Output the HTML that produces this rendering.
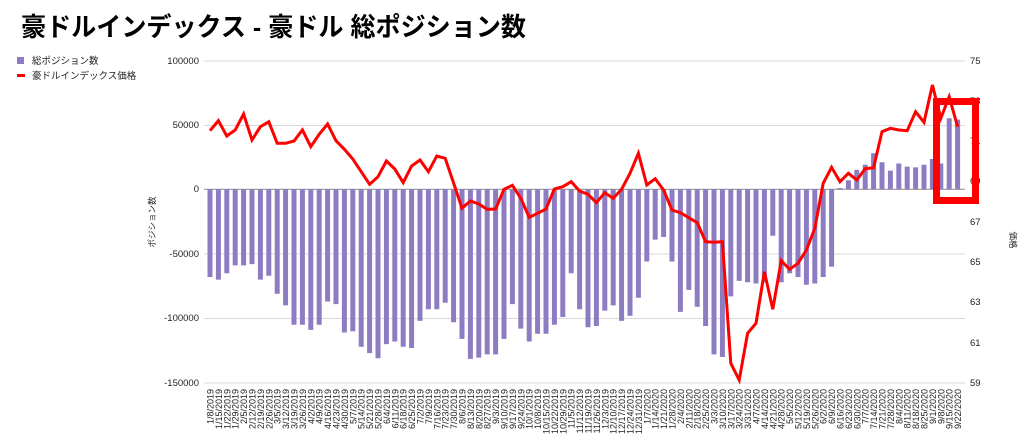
<!DOCTYPE html>
<html><head><meta charset="utf-8"><style>
html,body{margin:0;padding:0;background:#fff;width:1024px;height:447px;overflow:hidden}
svg{display:block;font-family:"Liberation Sans","Noto Sans CJK JP",sans-serif}
</style></head><body>
<svg width="1024" height="447" viewBox="0 0 1024 447" xmlns="http://www.w3.org/2000/svg">
<text x="21" y="36" font-size="26" font-weight="bold" fill="#000" textLength="505" lengthAdjust="spacingAndGlyphs">豪ドルインデックス - 豪ドル 総ポジション数</text>
<rect x="17" y="57" width="7" height="7" fill="#8e7cc3"/>
<text x="32" y="64" font-size="9.5" fill="#222">総ポジション数</text>
<rect x="17" y="74" width="8" height="3" fill="#ff0000"/>
<text x="32" y="79" font-size="9.5" fill="#222">豪ドルインデックス価格</text>
<g stroke="#d9d9d9" stroke-width="1">
<line x1="204" x2="965" y1="61" y2="61"/><line x1="204" x2="965" y1="125.5" y2="125.5"/>
<line x1="204" x2="965" y1="254" y2="254"/><line x1="204" x2="965" y1="318.5" y2="318.5"/>
<line x1="204" x2="965" y1="383" y2="383"/></g>
<line x1="204" x2="965" y1="189.3" y2="189.3" stroke="#999" stroke-width="1.2"/>
<g font-size="9.5" fill="#222" text-anchor="end">
<text x="199" y="64">100000</text><text x="199" y="128">50000</text><text x="199" y="192">0</text>
<text x="199" y="257">-50000</text><text x="199" y="321">-100000</text><text x="199" y="386">-150000</text></g>
<g font-size="9.5" fill="#222">
<text x="970" y="64">75</text><text x="970" y="104">73</text><text x="970" y="144">71</text><text x="970" y="184">69</text>
<text x="970" y="225">67</text><text x="970" y="265">65</text><text x="970" y="305">63</text><text x="970" y="346">61</text><text x="970" y="386">59</text></g>
<text transform="translate(155,222) rotate(-90)" font-size="8.5" fill="#222" text-anchor="middle">ポジション数</text>
<text transform="translate(1010,240) rotate(90)" font-size="8.5" fill="#222" text-anchor="middle">価格</text>
<path fill="#8e7cc3" d="M207.5,189.3v87.7h5v-87.7zM215.9,189.3v90.3h5v-90.3zM224.3,189.3v83.9h5v-83.9zM232.7,189.3v76.1h5v-76.1zM241.1,189.3v76.1h5v-76.1zM249.5,189.3v74.8h5v-74.8zM257.9,189.3v90.3h5v-90.3zM266.3,189.3v86.4h5v-86.4zM274.7,189.3v104.5h5v-104.5zM283.1,189.3v116.1h5v-116.1zM291.5,189.3v135.5h5v-135.5zM299.9,189.3v135.5h5v-135.5zM308.3,189.3v140.6h5v-140.6zM316.7,189.3v135.5h5v-135.5zM325.1,189.3v112.2h5v-112.2zM333.5,189.3v114.8h5v-114.8zM341.9,189.3v143.2h5v-143.2zM350.3,189.3v141.9h5v-141.9zM358.7,189.3v157.4h5v-157.4zM367.1,189.3v163.8h5v-163.8zM375.5,189.3v169h5v-169zM383.9,189.3v154.8h5v-154.8zM392.3,189.3v152.2h5v-152.2zM400.7,189.3v157.4h5v-157.4zM409.1,189.3v158.7h5v-158.7zM417.5,189.3v131.6h5v-131.6zM425.9,189.3v120h5v-120zM434.3,189.3v120h5v-120zM442.7,189.3v113.5h5v-113.5zM451.1,189.3v132.9h5v-132.9zM459.5,189.3v149.6h5v-149.6zM467.9,189.3v169.6h5v-169.6zM476.3,189.3v168.3h5v-168.3zM484.7,189.3v165.1h5v-165.1zM493.1,189.3v165.1h5v-165.1zM501.5,189.3v149.6h5v-149.6zM509.9,189.3v114.8h5v-114.8zM518.3,189.3v139.3h5v-139.3zM526.7,189.3v152.2h5v-152.2zM535.1,189.3v144.5h5v-144.5zM543.5,189.3v144.5h5v-144.5zM551.9,189.3v135.5h5v-135.5zM560.3,189.3v127.7h5v-127.7zM568.7,189.3v83.9h5v-83.9zM577.1,189.3v120h5v-120zM585.5,189.3v138h5v-138zM593.9,189.3v136.7h5v-136.7zM602.3,189.3v121.3h5v-121.3zM610.7,189.3v116.1h5v-116.1zM619.1,189.3v131.6h5v-131.6zM627.5,189.3v126.4h5v-126.4zM635.9,189.3v108.4h5v-108.4zM644.3,189.3v72.2h5v-72.2zM652.7,189.3v50.3h5v-50.3zM661.1,189.3v47.7h5v-47.7zM669.5,189.3v72.2h5v-72.2zM677.9,189.3v122.6h5v-122.6zM686.3,189.3v100.6h5v-100.6zM694.7,189.3v117.4h5v-117.4zM703.1,189.3v136.7h5v-136.7zM711.5,189.3v165.1h5v-165.1zM719.9,189.3v167.7h5v-167.7zM728.3,189.3v107.1h5v-107.1zM736.7,189.3v91.6h5v-91.6zM745.1,189.3v92.9h5v-92.9zM753.5,189.3v94.2h5v-94.2zM761.9,189.3v92.9h5v-92.9zM770.3,189.3v46.4h5v-46.4zM778.7,189.3v92.9h5v-92.9zM787.1,189.3v83.9h5v-83.9zM795.5,189.3v87.7h5v-87.7zM803.9,189.3v95.5h5v-95.5zM812.3,189.3v94.2h5v-94.2zM820.7,189.3v87.7h5v-87.7zM829.1,189.3v77.4h5v-77.4zM837.5,189.3v-1.3h5v1.3zM845.9,189.3v-9h5v9zM854.3,189.3v-19.4h5v19.4zM862.7,189.3v-24.5h5v24.5zM871.1,189.3v-36.1h5v36.1zM879.5,189.3v-27.1h5v27.1zM887.9,189.3v-18.7h5v18.7zM896.3,189.3v-25.8h5v25.8zM904.7,189.3v-22.7h5v22.7zM913.1,189.3v-21.9h5v21.9zM921.5,189.3v-24.5h5v24.5zM929.9,189.3v-30.3h5v30.3zM938.3,189.3v-25.8h5v25.8zM946.7,189.3v-71h5v71zM955.1,189.3v-69.7h5v69.7z"/>
<polyline fill="none" stroke="#ff0000" stroke-width="3" stroke-linejoin="miter" points="210,130.7 218.4,120.7 226.8,136 235.2,130 243.6,114 252,140 260.4,126.7 268.8,121.7 277.2,143.3 285.6,143.3 294,141 302.4,130 310.8,146.7 319.2,134.3 327.6,124 336,140.7 344.4,149.3 352.8,159 361.2,171.7 369.6,184.3 378,176.7 386.4,161 394.8,169 403.2,182.7 411.6,166 420,160 428.4,171.7 436.8,156 445.2,158.3 453.6,183 462,208.3 470.4,201 478.8,204 487.2,209.3 495.6,209 504,189.3 512.4,185.3 520.8,198.3 529.2,217.3 537.6,213.3 546,209 554.4,189 562.8,186.7 571.2,181.7 579.6,191 588,194.3 596.4,202.7 604.8,192.7 613.2,198.3 621.6,189.3 630,173.3 638.4,153.3 646.8,185 655.2,178.7 663.6,190 672,210 680.4,212.7 688.8,217.7 697.2,222.7 705.6,241.7 714,242.3 722.4,241.7 730.8,363.3 739.2,380 747.6,333.3 756,323.3 764.4,271.7 772.8,309.3 781.2,260.7 789.6,269.3 798,263.3 806.4,250 814.8,228.3 823.2,183.3 831.6,167.3 840,181.7 848.4,173.3 856.8,180 865.2,168.7 873.6,167.7 882,131.7 890.4,128.3 898.8,130 907.2,130.7 915.6,111.7 924,122.3 932.4,85 940.8,118.3 949.2,96.7 957.6,126.7"/>
<rect x="936.5" y="101.5" width="39" height="99" fill="none" stroke="#ff0000" stroke-width="7"/>
<g font-size="9" fill="#222" text-anchor="end">
<text transform="translate(213.5,389) rotate(-90)">1/8/2019</text>
<text transform="translate(221.9,389) rotate(-90)">1/15/2019</text>
<text transform="translate(230.3,389) rotate(-90)">1/22/2019</text>
<text transform="translate(238.7,389) rotate(-90)">1/29/2019</text>
<text transform="translate(247.1,389) rotate(-90)">2/5/2019</text>
<text transform="translate(255.5,389) rotate(-90)">2/12/2019</text>
<text transform="translate(263.9,389) rotate(-90)">2/19/2019</text>
<text transform="translate(272.3,389) rotate(-90)">2/26/2019</text>
<text transform="translate(280.7,389) rotate(-90)">3/5/2019</text>
<text transform="translate(289.1,389) rotate(-90)">3/12/2019</text>
<text transform="translate(297.5,389) rotate(-90)">3/19/2019</text>
<text transform="translate(305.9,389) rotate(-90)">3/26/2019</text>
<text transform="translate(314.3,389) rotate(-90)">4/2/2019</text>
<text transform="translate(322.7,389) rotate(-90)">4/9/2019</text>
<text transform="translate(331.1,389) rotate(-90)">4/16/2019</text>
<text transform="translate(339.5,389) rotate(-90)">4/23/2019</text>
<text transform="translate(347.9,389) rotate(-90)">4/30/2019</text>
<text transform="translate(356.3,389) rotate(-90)">5/7/2019</text>
<text transform="translate(364.7,389) rotate(-90)">5/14/2019</text>
<text transform="translate(373.1,389) rotate(-90)">5/21/2019</text>
<text transform="translate(381.5,389) rotate(-90)">5/28/2019</text>
<text transform="translate(389.9,389) rotate(-90)">6/4/2019</text>
<text transform="translate(398.3,389) rotate(-90)">6/11/2019</text>
<text transform="translate(406.7,389) rotate(-90)">6/18/2019</text>
<text transform="translate(415.1,389) rotate(-90)">6/25/2019</text>
<text transform="translate(423.5,389) rotate(-90)">7/2/2019</text>
<text transform="translate(431.9,389) rotate(-90)">7/9/2019</text>
<text transform="translate(440.3,389) rotate(-90)">7/16/2019</text>
<text transform="translate(448.7,389) rotate(-90)">7/23/2019</text>
<text transform="translate(457.1,389) rotate(-90)">7/30/2019</text>
<text transform="translate(465.5,389) rotate(-90)">8/6/2019</text>
<text transform="translate(473.9,389) rotate(-90)">8/13/2019</text>
<text transform="translate(482.3,389) rotate(-90)">8/20/2019</text>
<text transform="translate(490.7,389) rotate(-90)">8/27/2019</text>
<text transform="translate(499.1,389) rotate(-90)">9/3/2019</text>
<text transform="translate(507.5,389) rotate(-90)">9/10/2019</text>
<text transform="translate(515.9,389) rotate(-90)">9/17/2019</text>
<text transform="translate(524.3,389) rotate(-90)">9/24/2019</text>
<text transform="translate(532.7,389) rotate(-90)">10/1/2019</text>
<text transform="translate(541.1,389) rotate(-90)">10/8/2019</text>
<text transform="translate(549.5,389) rotate(-90)">10/15/2019</text>
<text transform="translate(557.9,389) rotate(-90)">10/22/2019</text>
<text transform="translate(566.3,389) rotate(-90)">10/29/2019</text>
<text transform="translate(574.7,389) rotate(-90)">11/5/2019</text>
<text transform="translate(583.1,389) rotate(-90)">11/12/2019</text>
<text transform="translate(591.5,389) rotate(-90)">11/19/2019</text>
<text transform="translate(599.9,389) rotate(-90)">11/26/2019</text>
<text transform="translate(608.3,389) rotate(-90)">12/3/2019</text>
<text transform="translate(616.7,389) rotate(-90)">12/10/2019</text>
<text transform="translate(625.1,389) rotate(-90)">12/17/2019</text>
<text transform="translate(633.5,389) rotate(-90)">12/24/2019</text>
<text transform="translate(641.9,389) rotate(-90)">12/31/2019</text>
<text transform="translate(650.3,389) rotate(-90)">1/7/2020</text>
<text transform="translate(658.7,389) rotate(-90)">1/14/2020</text>
<text transform="translate(667.1,389) rotate(-90)">1/21/2020</text>
<text transform="translate(675.5,389) rotate(-90)">1/28/2020</text>
<text transform="translate(683.9,389) rotate(-90)">2/4/2020</text>
<text transform="translate(692.3,389) rotate(-90)">2/11/2020</text>
<text transform="translate(700.7,389) rotate(-90)">2/18/2020</text>
<text transform="translate(709.1,389) rotate(-90)">2/25/2020</text>
<text transform="translate(717.5,389) rotate(-90)">3/3/2020</text>
<text transform="translate(725.9,389) rotate(-90)">3/10/2020</text>
<text transform="translate(734.3,389) rotate(-90)">3/17/2020</text>
<text transform="translate(742.7,389) rotate(-90)">3/24/2020</text>
<text transform="translate(751.1,389) rotate(-90)">3/31/2020</text>
<text transform="translate(759.5,389) rotate(-90)">4/7/2020</text>
<text transform="translate(767.9,389) rotate(-90)">4/14/2020</text>
<text transform="translate(776.3,389) rotate(-90)">4/21/2020</text>
<text transform="translate(784.7,389) rotate(-90)">4/28/2020</text>
<text transform="translate(793.1,389) rotate(-90)">5/5/2020</text>
<text transform="translate(801.5,389) rotate(-90)">5/12/2020</text>
<text transform="translate(809.9,389) rotate(-90)">5/19/2020</text>
<text transform="translate(818.3,389) rotate(-90)">5/26/2020</text>
<text transform="translate(826.7,389) rotate(-90)">6/2/2020</text>
<text transform="translate(835.1,389) rotate(-90)">6/9/2020</text>
<text transform="translate(843.5,389) rotate(-90)">6/16/2020</text>
<text transform="translate(851.9,389) rotate(-90)">6/23/2020</text>
<text transform="translate(860.3,389) rotate(-90)">6/30/2020</text>
<text transform="translate(868.7,389) rotate(-90)">7/7/2020</text>
<text transform="translate(877.1,389) rotate(-90)">7/14/2020</text>
<text transform="translate(885.5,389) rotate(-90)">7/21/2020</text>
<text transform="translate(893.9,389) rotate(-90)">7/28/2020</text>
<text transform="translate(902.3,389) rotate(-90)">8/4/2020</text>
<text transform="translate(910.7,389) rotate(-90)">8/11/2020</text>
<text transform="translate(919.1,389) rotate(-90)">8/18/2020</text>
<text transform="translate(927.5,389) rotate(-90)">8/25/2020</text>
<text transform="translate(935.9,389) rotate(-90)">9/1/2020</text>
<text transform="translate(944.3,389) rotate(-90)">9/8/2020</text>
<text transform="translate(952.7,389) rotate(-90)">9/15/2020</text>
<text transform="translate(961.1,389) rotate(-90)">9/22/2020</text>
</g>
</svg>
</body></html>
